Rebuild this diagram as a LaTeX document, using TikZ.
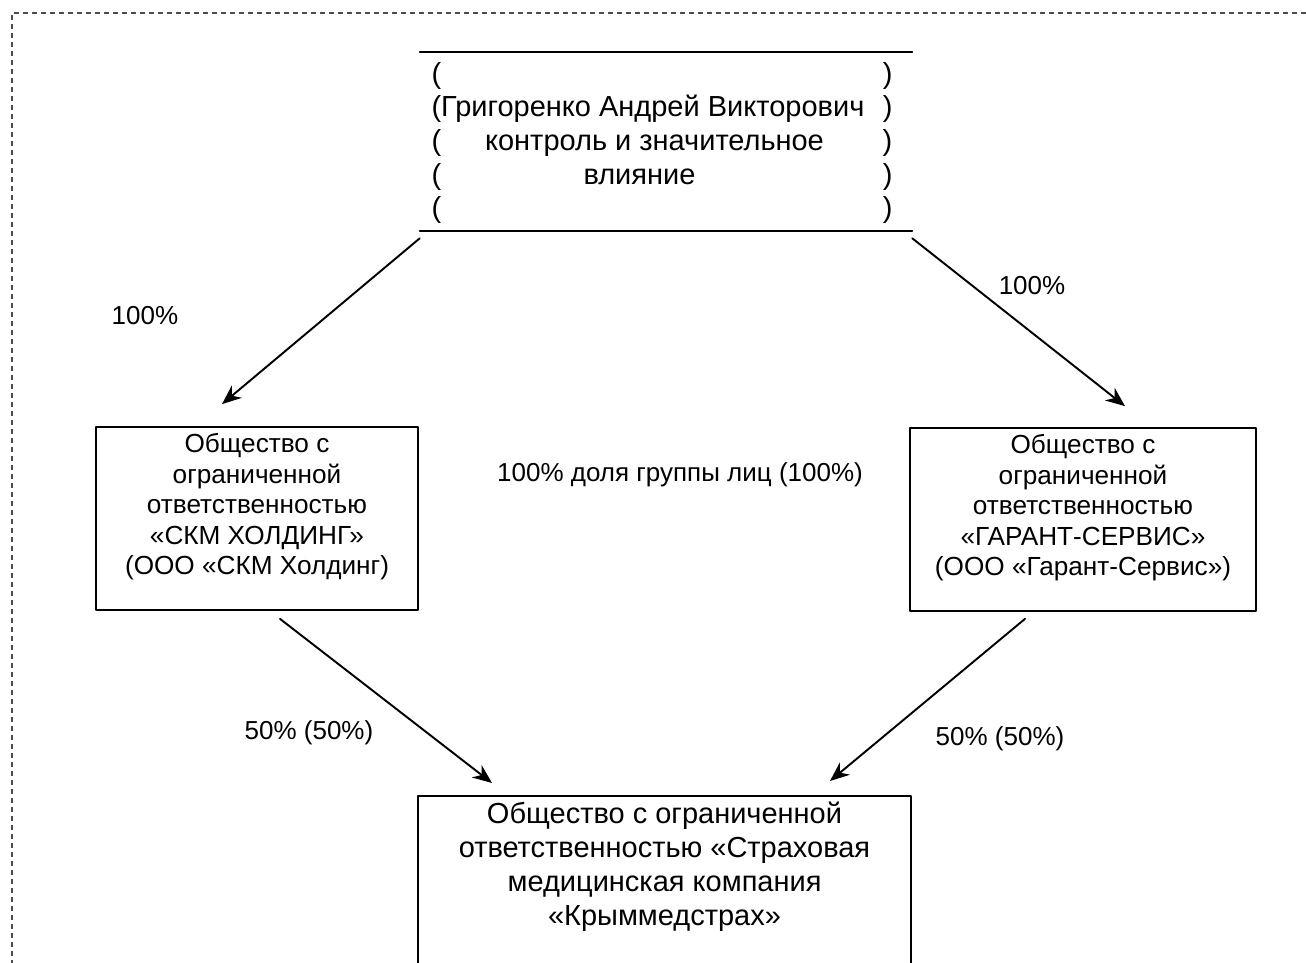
\documentclass[tikz,border=0pt]{standalone}
\usepackage{fontspec}
\setmainfont{Liberation Sans}
\usepackage{tikz}
\usetikzlibrary{arrows.meta,calc,positioning}

\tikzset{
  orgbox/.style={draw,line width=1pt,inner sep=0pt},
  orgtext/.style={align=center,inner sep=0pt,font=\fontsize{14.9}{17.4}\selectfont},
  pctlabel/.style={inner sep=0pt,font=\fontsize{14.8}{17.4}\selectfont},
  bigtext/.style={align=center,inner sep=0pt,font=\fontsize{16.5}{19.3}\selectfont},
}
\newcommand{\parline}[1]{\makebox[9.22cm]{#1}}

\begin{document}
\begin{tikzpicture}[line cap=round,line join=round,>={Stealth[length=11pt,width=9pt]},x=0.02cm,y=-0.02cm]
\useasboundingbox (0,0) rectangle (1306,963);
\clip (0,0) rectangle (1306,963);
\draw[line width=0.9pt,gray!60!black,dash pattern=on 0.1cm off 0.08cm,line cap=butt] (1306,13) -- (12,13) -- (12,963);

% owner
\node[inner sep=0pt,minimum width=9.84cm,minimum height=3.58cm] (owner) at (666,141.5) {};
\draw[line width=1pt] (owner.north west) -- (owner.north east);
\draw[line width=1pt] (owner.south west) -- (owner.south east);
\node[align=left,inner sep=0pt,font=\fontsize{16.5}{19.2}\selectfont] (ownertxt) at (662,143) {%
\parline{(\hfill)}\\
\parline{(Григоренко Андрей Викторович\hfill)}\\
\parline{(\hfill контроль и значительное\hfill\hspace{0.3cm})}\\
\parline{(\hfill влияние\hfill\hspace{0.9cm})}\\
\parline{(\hfill)}};

% companies
\node[orgbox,minimum width=6.44cm,minimum height=3.66cm] (skm) at (257,518.5) {};
\node[orgtext,anchor=north] (skmtxt) at ($(skm.north)+(0,7)$) {Общество с\\ ограниченной\\ ответственностью\\ «СКМ ХОЛДИНГ»\\ (ООО «СКМ Холдинг)};
\node[orgbox,minimum width=6.92cm,minimum height=3.66cm] (garant) at (1083,519.5) {};
\node[orgtext,anchor=north] (garanttxt) at ($(garant.north)+(0,7)$) {Общество с\\ ограниченной\\ ответственностью\\ «ГАРАНТ-СЕРВИС»\\ (ООО «Гарант-Сервис»)};
\node[orgbox,minimum width=9.86cm,minimum height=4cm,anchor=north] (krym) at (664.5,795) {};
\node[bigtext,anchor=north] (krymtxt) at ($(krym.north)+(0,7)$) {Общество с ограниченной\\ ответственностью «Страховая\\ медицинская компания\\ «Крыммедстрах»};

% shares
\draw[->,line width=1.1pt] ($(owner.south west)+(0,7)$) -- ($(skm.north)+(-35,-22)$);
\draw[->,line width=1.1pt] ($(owner.south east)+(0,7)$) -- ($(garant.north)+(42,-21)$);
\draw[->,line width=1.1pt] ($(skm.south)+(23,8)$) -- ($(krym.north)+(-172.5,-12)$);
\draw[->,line width=1.1pt] ($(garant.south)+(-58,7)$) -- ($(krym.north)+(165.5,-14)$);

\node[pctlabel] (pctskm) at (145,316) {100\%};
\node[pctlabel] (pctgarant) at (1032,286) {100\%};
\node[pctlabel] (pctgroup) at (680,475) {100\% доля группы лиц (100\%)};
\node[pctlabel] (halfskm) at (309,733) {50\% (50\%)};
\node[pctlabel] (halfgarant) at (1000,739) {50\% (50\%)};
\end{tikzpicture}
\end{document}
